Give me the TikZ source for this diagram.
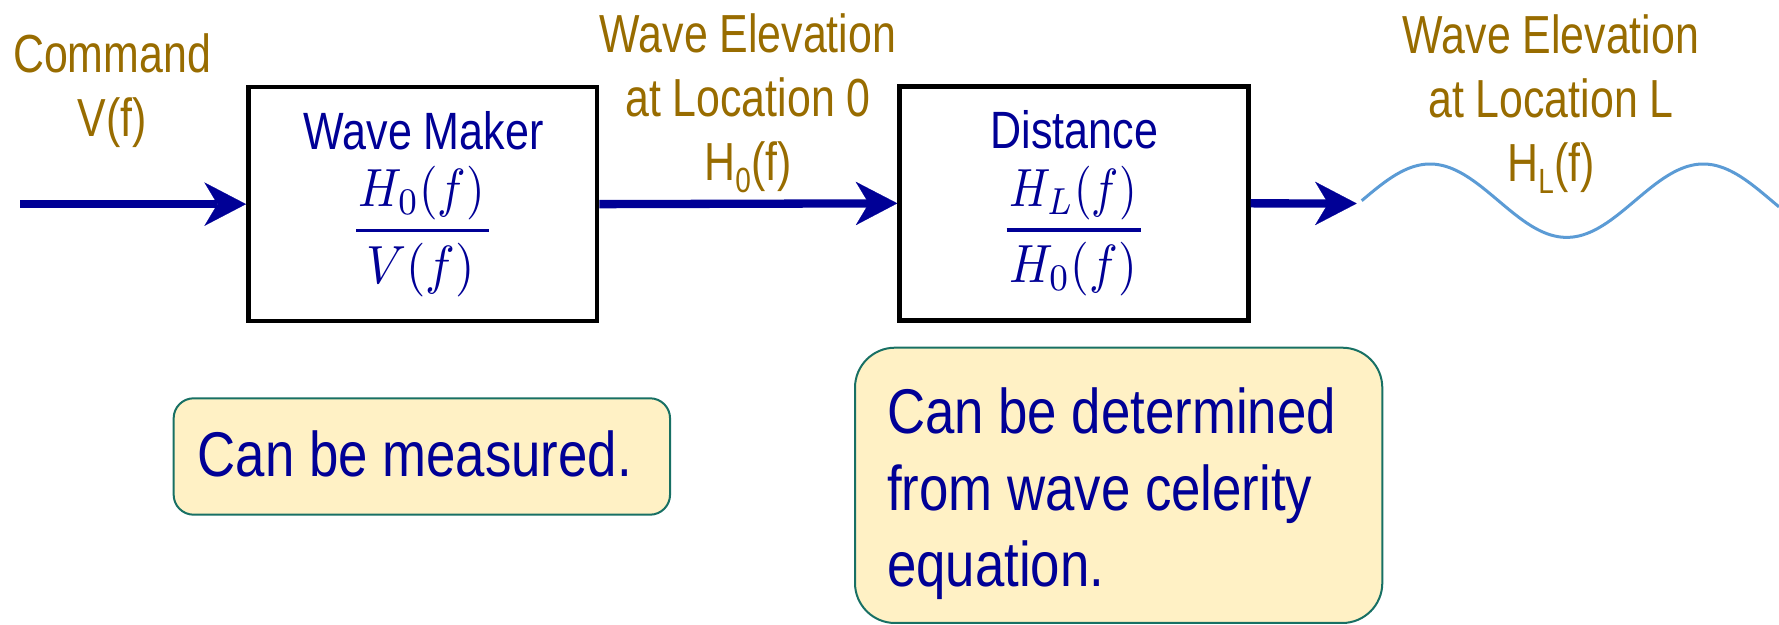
\documentclass[tikz,border=0pt]{standalone}
\usepackage[no-math]{fontspec}
\usepackage{graphicx}
\usetikzlibrary{arrows.meta}
\newfontfamily\labfont[FakeStretch=0.80]{Liberation Sans}
\newfontfamily\boxfont[FakeStretch=0.82]{Liberation Sans}
\newfontfamily\calfont[FakeStretch=0.835]{Liberation Sans}
\definecolor{gold}{RGB}{152,108,0}
\definecolor{navy}{RGB}{0,0,150}
\definecolor{wavec}{RGB}{91,155,213}
\definecolor{calfill}{RGB}{255,241,197}
\definecolor{calline}{RGB}{24,112,100}
\newcommand{\subz}[1]{{\fontsize{17.5}{18}\selectfont\raisebox{-6pt}{#1}}}
\newcommand{\mth}[2]{\resizebox{#1}{2.687\height}{$#2$}}
\begin{document}
\begin{tikzpicture}[x=0.5pt, y=-0.5pt,
  lab/.style={text=gold, font=\labfont\fontsize{26.8}{32}\selectfont, align=center, inner sep=0pt},
  blockbox/.style={draw=black, line width=2.25pt, minimum width=174.4pt, minimum height=117pt, inner sep=0pt},
  btext/.style={text=navy, font=\boxfont\fontsize{26.25}{30}\selectfont, inner sep=0pt},
  mtext/.style={text=navy, font=\fontsize{10}{12}\selectfont, inner sep=0pt},
  fbar/.style={draw=navy, line width=1.65pt},
  flow/.style={draw=navy, line width=4.15pt, -{Stealth[length=20.8pt, width=21.7pt, inset=6.5pt, line width=0.1pt]}},
  wavestyle/.style={draw=wavec, line width=1.5pt},
  callout/.style={draw=calline, fill=calfill, line width=1pt, inner sep=0pt},
  calt/.style={text=navy, font=\calfont\fontsize{31.6}{38.35}\selectfont, align=left, inner sep=0pt}]
\useasboundingbox (0,0) rectangle (1779,625);

% labels
\node[lab, anchor=north] (cmd) at (112,33) {Command\\V(f)};
\node[lab, anchor=north] (e0) at (748,13.3) {Wave Elevation\\at Location 0\\H\subz{0}(f)};
\node[lab, anchor=north] (eL) at (1551,14.5) {Wave Elevation\\at Location L\\H\subz{L}(f)};

% blocks
\node[blockbox] (wm) at (422.65,204.15) {};
\node[blockbox] (dist) at (1074,203.35) {};

\node[btext, anchor=base] (wmt) at (423.5,149.3) {Wave Maker};
\node[mtext, anchor=base] (wmn) at (421.7,206.7) {\mth{63.35pt}{H_0(f)}};
\node[mtext, anchor=base] (wmd) at (420.8,283.3) {\mth{54.2pt}{V(f)}};
\coordinate (wmb1) at (356,230.7);
\coordinate (wmb2) at (489.3,230.7);
\draw[fbar] (wmb1) -- (wmb2);

\node[btext, anchor=base] (dt) at (1074.5,148.3) {Distance};
\node[mtext, anchor=base] (dn) at (1073,206.7) {\mth{63.7pt}{H_L(f)}};
\node[mtext, anchor=base] (dd) at (1073,282.7) {\mth{63.7pt}{H_0(f)}};
\coordinate (db1) at (1006.7,230);
\coordinate (db2) at (1140.7,230);
\draw[fbar] (db1) -- (db2);

% connectors
\coordinate (in) at (20,204.15);
\coordinate (out) at (1356.7,203.5);
\draw[flow] (in) -- (wm.west);
\draw[flow] (wm.east) -- (dist.west);
\draw[flow] (dist.east) -- (out);

% wave
\draw[wavestyle] plot[domain=1361.7:1779, samples=120, smooth] (\x, {200.7 - 36.7*sin((\x-1361.7)/273.3*360)});

% callouts
\node[callout, rounded corners=10pt, minimum width=248.2pt, minimum height=58.2pt] (c1) at (421.85,456.5) {};
\node[calt, anchor=base west] (c1t) at (197.4,476.7) {Can be measured.};
\node[callout, rounded corners=20pt, minimum width=263.65pt, minimum height=137.65pt] (c2) at (1118.65,485.35) {};
\node[calt, anchor=north west] (c2t) at (886.7,387.3) {Can be determined\\from wave celerity\\equation.};
\end{tikzpicture}
\end{document}
